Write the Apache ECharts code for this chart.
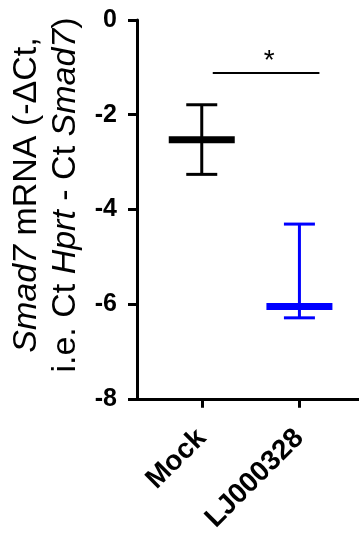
<!DOCTYPE html>
<html>
<head>
<meta charset="utf-8">
<script src="https://cdn.jsdelivr.net/npm/echarts@6/dist/echarts.min.js"></script>
<style>
html,body{margin:0;padding:0;background:#fff;}
#c{width:359px;height:535px;}
</style>
</head>
<body>
<div id="c"></div>
<script>
// Data
var categories = ['Mock', 'LJ000328'];
var means = [-2.53, -6.05];
var upper = [-1.79, -4.31];
var lower = [-3.26, -6.29];
var colors = ['#000000', '#0000ff'];
var yTicks = [0, -2, -4, -6, -8];
var sigLevel = -1.12;
var sigText = '*';

var FONT = '"Liberation Sans", Arial, sans-serif';

var chart = echarts.init(document.getElementById('c'), null, {renderer: 'canvas'});

var errData = categories.map(function (c, i) {
  return [i + 1, means[i], upper[i], lower[i], i];
});

var option = {
  animation: false,
  backgroundColor: '#fff',
  grid: {left: 137, right: 0, top: 20, bottom: 136, containLabel: false},
  xAxis: {
    type: 'value',
    min: 0.337,
    max: 2.61,
    splitLine: {show: false},
    axisLine: {show: true, onZero: false, lineStyle: {color: '#000', width: 3}},
    axisTick: {show: true, inside: false, length: 9, lineStyle: {color: '#000', width: 3}, customValues: [1, 2]},
    axisLabel: {
      show: true, rotate: 45, margin: 35,
      customValues: [1, 2],
      color: '#000', fontFamily: FONT, fontWeight: 'bold', fontSize: 28,
      formatter: function (v) { return categories[Math.round(v) - 1] || ''; }
    }
  },
  yAxis: {
    type: 'value',
    min: -8, max: 0, interval: 2,
    splitLine: {show: false},
    axisLine: {show: true, onZero: false, lineStyle: {color: '#000', width: 3}},
    axisTick: {show: true, inside: false, length: 9, lineStyle: {color: '#000', width: 3}},
    axisLabel: {
      margin: 20, color: '#000', fontFamily: FONT, fontWeight: 'bold', fontSize: 25,
      formatter: function (v) { return String(v); }
    }
  },
  graphic: [{
    type: 'text',
    x: 46, y: 195,
    rotation: Math.PI / 2,
    style: {
      text: '{i|Smad7} mRNA (-ΔCt,\ni.e. Ct {i|Hprt} - Ct {i|Smad7})',
      fontFamily: FONT, fontSize: 34, fill: '#000',
      align: 'center', verticalAlign: 'middle', lineHeight: 39,
      rich: {i: {fontStyle: 'italic', fontFamily: FONT, fontSize: 34, lineHeight: 39}}
    }
  }],
  series: [{
    type: 'custom',
    coordinateSystem: 'cartesian2d',
    data: errData,
    encode: {x: 0, y: [1, 2, 3]},
    renderItem: function (params, api) {
      var x = api.value(0);
      var pm = api.coord([x, api.value(1)]);
      var pu = api.coord([x, api.value(2)]);
      var pl = api.coord([x, api.value(3)]);
      var col = colors[api.value(4)];
      var capW = 15.5, meanW = 33;
      return {
        type: 'group',
        children: [
          {type: 'line', shape: {x1: pu[0], y1: pu[1], x2: pl[0], y2: pl[1]}, style: {stroke: col, lineWidth: 3}},
          {type: 'line', shape: {x1: pu[0] - capW, y1: pu[1], x2: pu[0] + capW, y2: pu[1]}, style: {stroke: col, lineWidth: 3}},
          {type: 'line', shape: {x1: pl[0] - capW, y1: pl[1], x2: pl[0] + capW, y2: pl[1]}, style: {stroke: col, lineWidth: 3}},
          {type: 'line', shape: {x1: pm[0] - meanW, y1: pm[1], x2: pm[0] + meanW, y2: pm[1]}, style: {stroke: col, lineWidth: 7}}
        ]
      };
    }
  }, {
    type: 'custom',
    coordinateSystem: 'cartesian2d',
    data: [[1, 2, sigLevel]],
    encode: {x: [0, 1], y: 2},
    renderItem: function (params, api) {
      var a = api.coord([api.value(0), api.value(2)]);
      var b = api.coord([api.value(1), api.value(2)]);
      var x1 = a[0] + 11, x2 = b[0] + 20;
      return {
        type: 'group',
        children: [
          {type: 'line', shape: {x1: x1, y1: a[1], x2: x2, y2: a[1]}, style: {stroke: '#000', lineWidth: 2}},
          {type: 'text', x: (x1 + x2) / 2 + 3, y: a[1] - 12, style: {text: sigText, fontFamily: FONT, fontSize: 28, fill: '#000', align: 'center', verticalAlign: 'middle'}}
        ]
      };
    }
  }]
};
chart.setOption(option);
</script>
</body>
</html>
